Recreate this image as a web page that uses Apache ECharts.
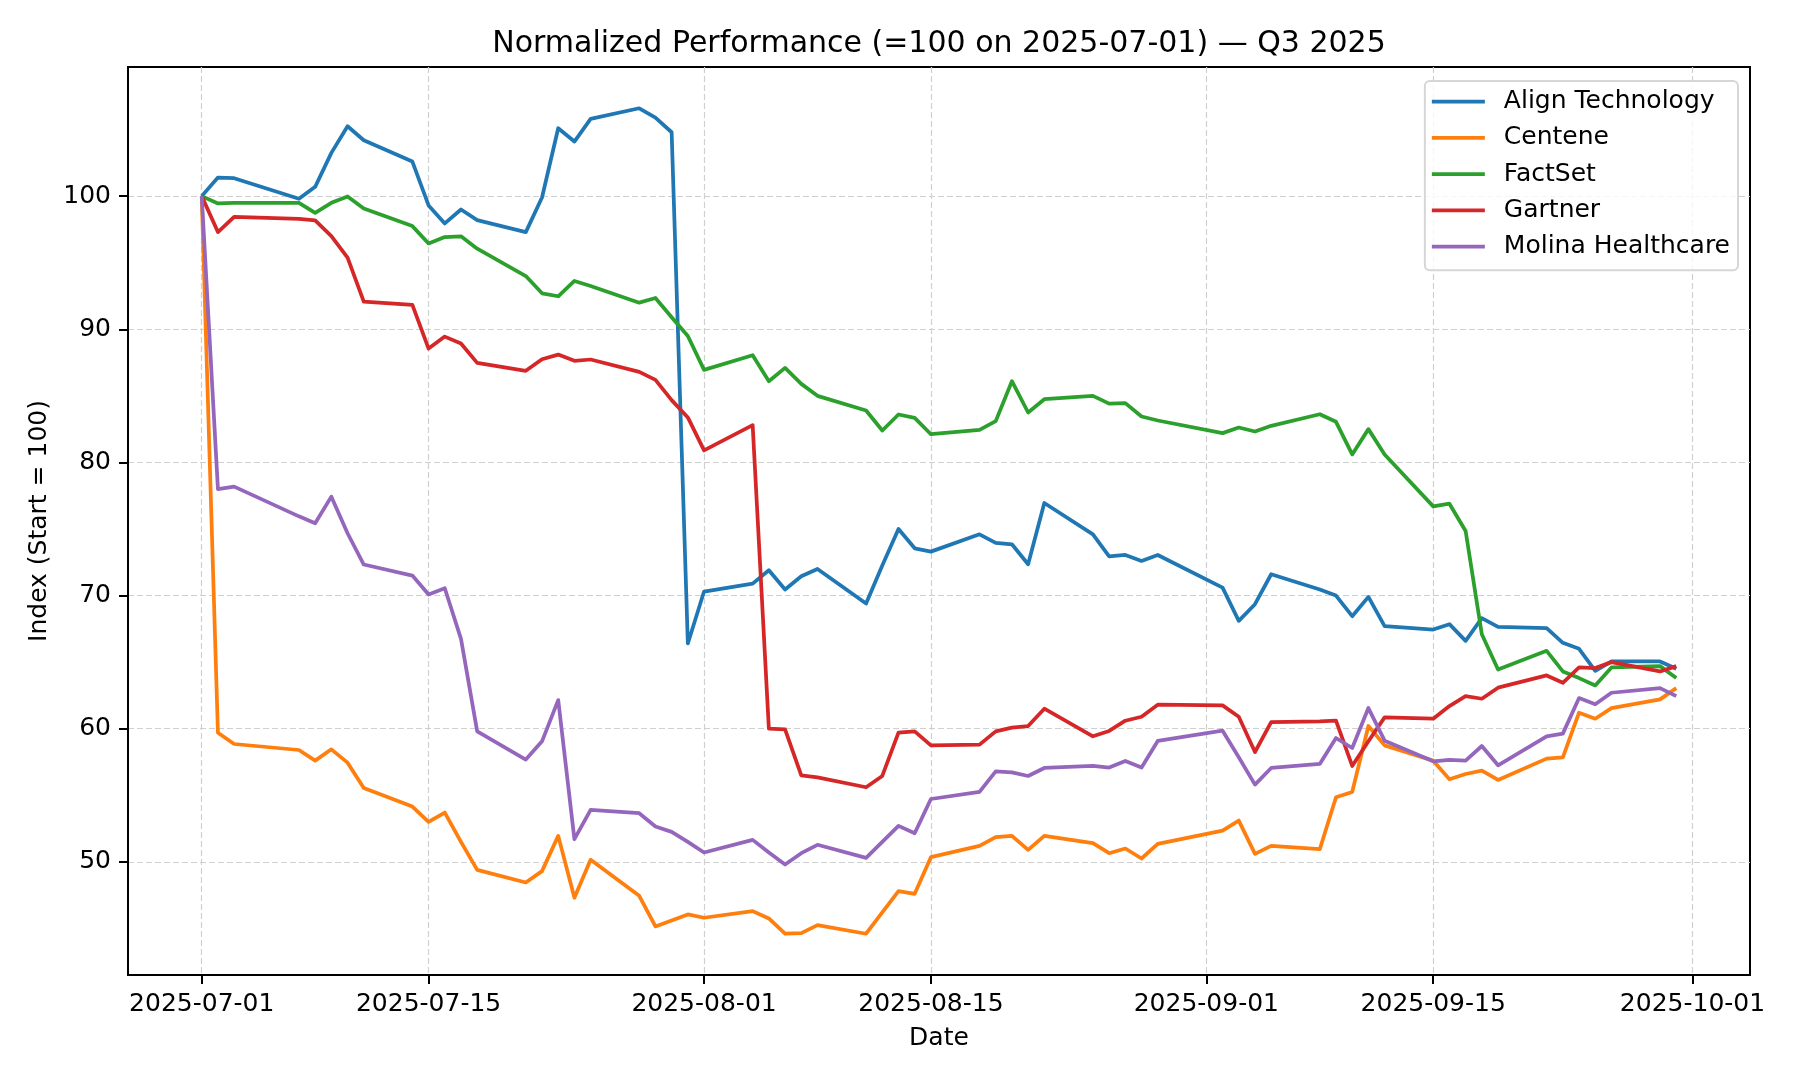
<!DOCTYPE html>
<html>
<head>
<meta charset="utf-8">
<script src="https://cdn.jsdelivr.net/npm/echarts@6/dist/echarts.min.js"></script>
<style>
  html, body { margin: 0; padding: 0; background: #fff; }
  #chart { width: 1800px; height: 1080px; }
</style>
</head>
<body>
<div id="chart"></div>
<script>
const dates = [
  '2025-07-01','2025-07-02','2025-07-03','2025-07-07','2025-07-08','2025-07-09','2025-07-10','2025-07-11',
  '2025-07-14','2025-07-15','2025-07-16','2025-07-17','2025-07-18','2025-07-21','2025-07-22','2025-07-23',
  '2025-07-24','2025-07-25','2025-07-28','2025-07-29','2025-07-30','2025-07-31','2025-08-01','2025-08-04',
  '2025-08-05','2025-08-06','2025-08-07','2025-08-08','2025-08-11','2025-08-12','2025-08-13','2025-08-14',
  '2025-08-15','2025-08-18','2025-08-19','2025-08-20','2025-08-21','2025-08-22','2025-08-25','2025-08-26',
  '2025-08-27','2025-08-28','2025-08-29','2025-09-02','2025-09-03','2025-09-04','2025-09-05','2025-09-08',
  '2025-09-09','2025-09-10','2025-09-11','2025-09-12','2025-09-15','2025-09-16','2025-09-17','2025-09-18',
  '2025-09-19','2025-09-22','2025-09-23','2025-09-24','2025-09-25','2025-09-26','2025-09-29','2025-09-30'
];

const alignTechnology = [
  100, 101.4, 101.35, 99.8, 100.7, 103.25, 105.25, 104.2,
  102.6, 99.3, 97.95, 99.0, 98.2, 97.3, 99.9, 105.1,
  104.1, 105.8, 106.6, 105.9, 104.8, 66.4, 70.3, 70.9,
  71.9, 70.45, 71.45, 72.0, 69.4, 72.25, 75.0, 73.55,
  73.3, 74.6, 73.95, 73.85, 72.35, 76.95, 74.6, 72.95,
  73.05, 72.6, 73.05, 70.6, 68.1, 69.35, 71.6, 70.45,
  70.0, 68.45, 69.9, 67.7, 67.45, 67.85, 66.6, 68.3,
  67.65, 67.55, 66.45, 66.0, 64.35, 65.05, 65.05, 64.5
];

const centene = [
  100, 59.7, 58.85, 58.4, 57.6, 58.45, 57.45, 55.55,
  54.15, 53.0, 53.7, 51.5, 49.4, 48.45, 49.3, 51.95,
  47.3, 50.15, 47.45, 45.15, 45.6, 46.05, 45.8, 46.3,
  45.75, 44.6, 44.65, 45.25, 44.6, 46.2, 47.8, 47.6,
  50.35, 51.2, 51.85, 51.95, 50.9, 51.95, 51.4, 50.65,
  51.0, 50.25, 51.35, 52.35, 53.1, 50.6, 51.2, 50.95,
  54.85, 55.25, 60.2, 58.75, 57.6, 56.2, 56.6, 56.85,
  56.15, 57.75, 57.85, 61.2, 60.75, 61.55, 62.2, 63.05
];

const factSet = [
  100, 99.45, 99.5, 99.5, 98.75, 99.5, 99.98, 99.08,
  97.75, 96.45, 96.93, 96.98, 96.05, 94.0, 92.7, 92.48,
  93.63, 93.25, 92.0, 92.35, 90.9, 89.5, 86.95, 88.05,
  86.1, 87.1, 85.9, 85.0, 83.9, 82.4, 83.6, 83.35,
  82.12, 82.45, 83.1, 86.1, 83.75, 84.75, 85.0, 84.42,
  84.45, 83.45, 83.15, 82.2, 82.62, 82.32, 82.75, 83.62,
  83.05, 80.6, 82.5, 80.6, 76.7, 76.9, 74.85, 67.1,
  64.45, 65.85, 64.3, 63.8, 63.25, 64.6, 64.7, 63.8
];

const gartner = [
  100, 97.3, 98.45, 98.3, 98.18, 97.0, 95.38, 92.08,
  91.83, 88.55, 89.45, 88.93, 87.48, 86.88, 87.75, 88.1,
  87.63, 87.73, 86.8, 86.2, 84.68, 83.38, 80.9, 82.8,
  60.0, 59.95, 56.5, 56.35, 55.6, 56.45, 59.7, 59.8,
  58.75, 58.8, 59.8, 60.08, 60.2, 61.5, 59.43, 59.83,
  60.6, 60.9, 61.8, 61.75, 60.9, 58.25, 60.5, 60.55,
  60.6, 57.2, 59.05, 60.85, 60.75, 61.7, 62.45, 62.25,
  63.08, 64.0, 63.45, 64.6, 64.55, 65.0, 64.3, 64.7
];

const molinaHealthcare = [
  100, 78.0, 78.18, 75.95, 75.43, 77.43, 74.68, 72.33,
  71.5, 70.08, 70.55, 66.75, 59.8, 57.68, 59.05, 62.15,
  51.7, 53.9, 53.65, 52.65, 52.25, 51.5, 50.7, 51.65,
  50.7, 49.8, 50.65, 51.28, 50.3, 51.5, 52.7, 52.15,
  54.72, 55.25, 56.8, 56.72, 56.45, 57.05, 57.2, 57.08,
  57.58, 57.08, 59.08, 59.85, 57.85, 55.8, 57.05, 57.35,
  59.3, 58.55, 61.55, 59.1, 57.55, 57.65, 57.6, 58.7,
  57.25, 59.43, 59.63, 62.3, 61.83, 62.7, 63.05, 62.45
];

const seriesNames = ['Align Technology', 'Centene', 'FactSet', 'Gartner', 'Molina Healthcare'];
const seriesValues = [alignTechnology, centene, factSet, gartner, molinaHealthcare];
const seriesColors = ['#1f77b4', '#ff7f0e', '#2ca02c', '#d62728', '#9467bd'];

const xTickLabels = ['2025-07-01', '2025-07-15', '2025-08-01', '2025-08-15', '2025-09-01', '2025-09-15', '2025-10-01'];
const yTickValues = [50, 60, 70, 80, 90, 100];

const titleText = 'Normalized Performance (=100 on 2025-07-01) \u2014 Q3 2025';
const xAxisTitle = 'Date';
const yAxisTitle = 'Index (Start = 100)';

const toMs = s => Date.parse(s + 'T00:00:00Z');
const fmtDate = v => new Date(v).toISOString().slice(0, 10);

const tMs = dates.map(toMs);
const tMin = Math.min(...tMs), tMax = Math.max(...tMs);
const tPad = (tMax - tMin) * 0.05;
const allVals = [].concat(...seriesValues);
const vMin = Math.min(...allVals), vMax = Math.max(...allVals);
const vPad = (vMax - vMin) * 0.05;

const FONT = 'DejaVu Sans';
const chart = echarts.init(document.getElementById('chart'), null, { renderer: 'canvas' });

const gridLine = { show: true, lineStyle: { color: '#d0d0d0', width: 1.2, type: [6, 3] } };

chart.setOption({
  animation: false,
  backgroundColor: '#ffffff',
  textStyle: { fontFamily: FONT, color: '#000' },
  title: {
    text: titleText,
    left: 939,
    textAlign: 'center',
    top: 29,
    padding: 0,
    textStyle: { fontFamily: FONT, fontSize: 30, fontWeight: 'normal', color: '#000' }
  },
  grid: {
    left: 128, top: 67, width: 1622, height: 908,
    show: true, borderColor: '#000', borderWidth: 2, backgroundColor: 'transparent',
    containLabel: false
  },
  legend: {
    orient: 'vertical',
    right: 62,
    top: 81,
    padding: [8, 8, 11, 7],
    itemGap: 11.3,
    itemWidth: 53,
    itemHeight: 3.75,
    icon: 'rect',
    backgroundColor: 'rgba(255,255,255,0.8)',
    borderColor: '#d6d6d6',
    borderWidth: 2,
    borderRadius: 5,
    data: seriesNames,
    textStyle: { fontFamily: FONT, fontSize: 25, color: '#000', lineHeight: 25, padding: [0, 0, 0, 14] }
  },
  xAxis: {
    type: 'value',
    min: tMin - tPad,
    max: tMax + tPad,
    name: xAxisTitle,
    nameLocation: 'middle',
    nameGap: 51,
    nameTextStyle: { fontFamily: FONT, fontSize: 25, color: '#000' },
    axisLine: { show: true, onZero: false, lineStyle: { color: '#000', width: 2 } },
    axisTick: { show: true, inside: false, length: 9, lineStyle: { color: '#000', width: 2 }, customValues: xTickLabels.map(toMs) },
    axisLabel: {
      show: true, margin: 17, fontFamily: FONT, fontSize: 25, color: '#000',
      customValues: xTickLabels.map(toMs),
      formatter: v => fmtDate(v)
    },
    splitLine: gridLine
  },
  yAxis: {
    type: 'value',
    min: vMin - vPad,
    max: vMax + vPad,
    name: yAxisTitle,
    nameLocation: 'middle',
    nameGap: 76,
    nameRotate: 90,
    nameTextStyle: { fontFamily: FONT, fontSize: 25, color: '#000' },
    axisLine: { show: true, onZero: false, lineStyle: { color: '#000', width: 2 } },
    axisTick: { show: true, inside: false, length: 9, lineStyle: { color: '#000', width: 2 }, customValues: yTickValues },
    axisLabel: {
      show: true, margin: 17, fontFamily: FONT, fontSize: 25, color: '#000',
      customValues: yTickValues
    },
    splitLine: gridLine
  },
  series: seriesNames.map((name, i) => ({
    name: name,
    type: 'line',
    data: seriesValues[i].map((v, j) => [tMs[j], v]),
    symbol: 'none',
    showSymbol: false,
    smooth: false,
    color: seriesColors[i],
    itemStyle: { color: seriesColors[i] },
    lineStyle: { color: seriesColors[i], width: 3.75, cap: 'butt', join: 'round' },
    emphasis: { disabled: true },
    z: 2 + i
  }))
});
</script>
</body>
</html>
